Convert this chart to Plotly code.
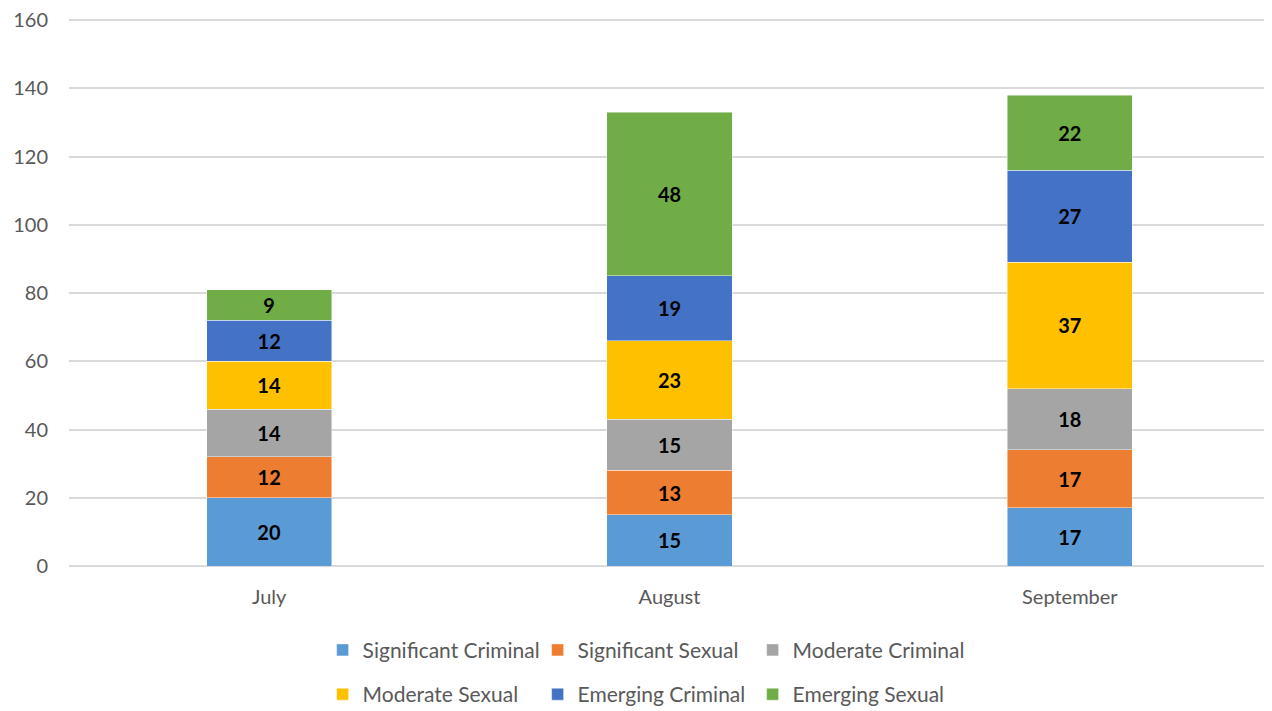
import plotly.graph_objects as go

months = ["July", "August", "September"]
series_names = ["Significant Criminal", "Significant Sexual", "Moderate Criminal",
                "Moderate Sexual", "Emerging Criminal", "Emerging Sexual"]
significant_criminal = [20, 15, 17]
significant_sexual = [12, 13, 17]
moderate_criminal = [14, 15, 18]
moderate_sexual = [14, 23, 37]
emerging_criminal = [12, 19, 27]
emerging_sexual = [9, 48, 22]
colors = ["#5B9BD5", "#ED7D31", "#A5A5A5", "#FFC000", "#4472C4", "#70AD47"]

values = [significant_criminal, significant_sexual, moderate_criminal,
          moderate_sexual, emerging_criminal, emerging_sexual]

FONT = "Lato, Calibri, Carlito, sans-serif"

fig = go.Figure()
for i, (name, vals, col) in enumerate(zip(series_names, values, colors)):
    fig.add_trace(go.Bar(
        x=months, y=vals, name=name,
        marker=dict(color=col, line=dict(color="rgba(255,255,255,0.6)", width=0.75)),
        width=0.3125,
        text=[str(v) for v in vals], textposition="inside", textangle=0,
        insidetextanchor="middle",
        textfont=dict(family=FONT, size=20, color="black", weight="bold"),
        legend="legend" if i < 3 else "legend2",
    ))

legend_common = dict(
    orientation="h", x=0.4797, xanchor="center", yanchor="middle",
    font=dict(family=FONT, size=21, color="#595959"),
    traceorder="normal",
    entrywidth=170, entrywidthmode="pixels", bgcolor="rgba(0,0,0,0)",
    itemclick=False, itemdoubleclick=False,
)

fig.update_layout(
    barmode="stack",
    width=1272, height=711,
    margin=dict(l=61, r=10, t=11, b=153, autoexpand=False),
    plot_bgcolor="white", paper_bgcolor="white",
    font=dict(family=FONT, size=20, color="#595959"),
    legend=dict(y=-0.154, **legend_common),
    legend2=dict(y=-0.235, **legend_common),
    uniformtext=dict(mode="show", minsize=10),
)
fig.update_yaxes(
    range=[0, 160.3], dtick=20, showgrid=True, gridcolor="#D9D9D9", gridwidth=1.5,
    zeroline=True, zerolinecolor="#D9D9D9", zerolinewidth=1.5,
    showline=False, ticks="", ticklabelstandoff=20, ticklabeloverflow="allow",
    automargin=False,
    tickfont=dict(family=FONT, size=20, color="#595959"),
)
fig.update_xaxes(
    showgrid=False, showline=False, ticks="", ticklabelstandoff=17,
    automargin=False,
    tickfont=dict(family=FONT, size=20, color="#595959"),
)

fig.write_html("out.html")
